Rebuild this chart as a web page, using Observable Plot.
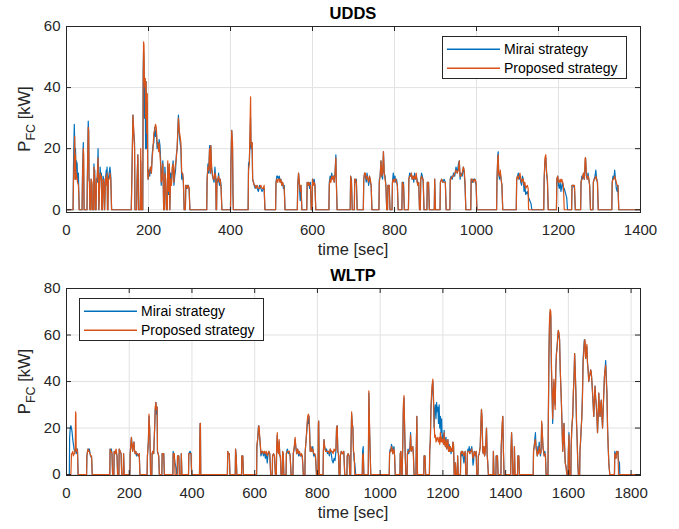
<!DOCTYPE html>
<html><head><meta charset="utf-8">
<script src="https://cdn.jsdelivr.net/npm/d3@7"></script>
<script src="https://cdn.jsdelivr.net/npm/@observablehq/plot@0.6"></script>
<style>
body{margin:0;background:#fff;}
#fig{position:relative;width:679px;height:529px;}
#fig svg{display:block;}
</style></head><body><div id="fig"></div>
<script>
// ---------- UDDS ----------
const uddsTime = [
0,16,
17,19,20,21,22,23,24,26,27,29,30,31,
38,39,41,42,43,
50,51,53,54,55,56,57,
59,60,62,63,
66,67,68,69,70,
72,73,75,77,78,79,
81,82,84,85,86,
88,89,91,93,
95,97,98,99,100,
101,102,104,106,108,110,
158,160,162,164,166,167,
171,172,174,175,176,
180,181,183,
186,187,188,189,190,191,192,193,194,195,196,197,198,199,
201,203,205,207,209,211,213,215,217,219,221,223,225,226,228,230,231,233,235,236,237,
239,240,242,244,246,247,249,251,252,
254,256,258,260,262,264,266,268,270,272,273,275,277,279,281,283,285,287,
290,291,293,295,297,299,301,
342,343,345,347,349,350,351,352,354,356,358,360,362,364,365,
366,367,369,371,373,375,377,379,
400,401,403,405,406,407,
443,444,446,448,449,450,452,453,454,456,458,460,462,465,468,471,474,477,480,482,484,
510,511,513,515,517,519,521,523,525,527,529,531,533,
563,564,566,568,570,572,574,
586,587,589,591,593,595,597,
599,600,602,604,606,608,
640,641,643,645,647,649,651,653,655,657,658,660,
692,693,695,697,
702,703,705,707,709,
724,725,727,729,731,733,735,737,739,741,743,745,
762,763,765,767,769,771,773,775,777,779,781,
783,784,787,789,
794,795,797,799,801,803,805,807,809,
818,819,822,824,
834,835,837,839,841,843,845,847,849,851,853,855,857,859,861,
863,864,866,868,870,872,
879,880,883,885,
897,898,900,
911,912,915,918,921,924,926,
935,936,938,941,944,947,950,953,956,958,960,962,965,968,970,972,974,
986,987,990,993,996,999,1001,
1049,1050,1052,1053,1054,1056,1058,1060,1062,1064,
1097,1098,1100,1102,1104,1106,1108,1110,1112,1114,1116,1118,1120,1124,1126,1127,1133,1135,
1164,1165,1167,1169,1171,1173,1175,
1195,1196,1198,1200,1202,1204,1206,1208,1210,1212,1214,1220,1222,
1232,1233,1236,1239,1241,
1254,1255,1257,1259,1261,1263,1265,1266,1268,1270,1272,1274,1276,1278,
1284,1285,1287,1289,1291,1293,1295,1297,
1330,1331,1333,1335,1337,1339,1341,1343,1345,1347,
1400
];
const uddsMirai = [
0,0,
14,28,22,10,20,12,16,15,9,12,6,0,
0,12,22,10,0,
0,12,29,26,10,9,0,
0,10,8,0,
0,15,10,13,0,
0,10,9,20,11,0,
10,14,10,12,0,
0,11,10,0,
10,13,10,14,0,
0,10,12,14,11,0,
0,15,31,25,22,0,
0,9,18,10,0,
0,16,0,
0,45,52,48,30,43,38,20,42,28,20,35,14,10,
13,11,14,12,18,21,22,27,24,26,20,22,20,23,21,15,8,12,16,8,0,
0,14,9,0,0,15,5,14,0,
12,9,13,16,8,11,13,18,20,28,31,25,22,20,10,12,9,0,
0,8,7,8,8,7,0,
0,10,15,12,21,14,12,21,13,11,10,9,14,10,0,
0,10,9,12,8,10,8,0,
0,15,26,20,5,0,
0,15,16,25,30,20,22,18,10,9,8,7,8,7,6,8,7,6,7,7,0,
0,9,11,11,10,11,9,10,8,9,7,8,0,
0,8,12,8,3,8,0,
0,9,8,9,7,9,0,
0,10,9,10,8,0,
0,9,11,10,12,10,11,9,12,18,10,0,
0,11,10,0,
0,10,9,10,0,
0,10,12,11,9,12,10,8,11,9,8,0,
0,10,11,16,11,10,19,12,11,8,0,
0,8,8,0,
0,9,12,10,11,9,10,8,0,
0,9,9,0,
0,10,12,11,12,10,11,9,12,10,11,10,8,9,0,
0,10,12,11,9,0,
0,9,9,0,
0,10,0,
0,9,10,9,10,9,0,
0,10,11,10,12,11,14,12,15,16,10,12,11,14,12,8,0,
0,10,9,10,10,8,0,
0,10,18,19,12,10,12,10,8,0,
0,10,11,12,10,11,9,8,11,10,6,8,5,6,5,4,2,0,
0,10,16,17,12,9,0,
0,10,11,8,7,9,6,8,9,6,7,4,0,
0,8,8,7,0,
0,9,11,10,12,10,15,17,11,10,12,10,8,0,
0,9,10,11,13,10,9,0,
0,9,11,10,13,10,7,6,8,0,
0
];
const uddsProposed = [
0,0,
9,18,24,10,18,10,12,10,9,8,5,0,
0,10,20,18,0,
0,10,27,26,10,9,0,
0,10,9,0,
0,14,12,10,0,
0,9,11,17,10,0,
10,12,10,11,0,
0,10,9,0,
10,11,8,12,0,
0,10,10,12,10,0,
0,14,31,26,20,0,
0,9,18,9,0,
0,20,0,
0,40,55,54,42,40,43,30,42,35,25,38,12,10,
12,13,14,12,17,20,25,26,28,27,22,21,19,22,18,14,9,10,15,8,0,
0,12,10,0,0,16,6,15,0,
10,8,14,15,9,13,15,17,21,27,30,26,24,22,12,12,10,0,
0,8,8,7,8,7,0,
0,10,14,13,20,16,12,21,14,12,10,10,12,11,0,
0,9,10,11,9,10,7,0,
0,14,26,22,6,0,
0,13,15,30,37,22,20,22,10,9,8,8,7,8,7,7,8,7,7,8,0,
0,9,10,9,10,10,9,10,8,9,8,7,0,
0,8,12,9,6,8,0,
0,9,8,9,8,8,0,
0,10,8,9,8,0,
0,8,10,9,11,10,11,9,12,17,10,0,
0,11,9,0,
0,10,10,9,0,
0,10,12,12,10,11,10,9,11,10,8,0,
0,9,11,16,11,12,19,12,10,8,0,
0,8,8,0,
0,9,10,9,10,10,9,8,0,
0,9,8,0,
0,10,11,11,12,10,11,10,11,10,12,9,8,9,0,
0,10,11,10,10,0,
0,9,9,0,
0,10,0,
0,9,10,9,9,9,0,
0,10,10,11,11,12,13,12,13,16,11,11,12,14,13,9,0,
0,10,10,9,10,9,0,
0,10,17,18,12,11,13,10,8,0,
0,10,11,10,11,12,10,9,10,10,8,9,7,8,7,0,0,0,
0,10,17,18,12,10,0,
0,10,11,9,9,10,9,10,9,8,0,0,0,
0,8,8,8,0,
0,9,10,11,12,10,17,17,12,10,11,10,8,0,
0,9,10,10,11,10,9,0,
0,9,10,10,11,10,9,8,8,0,
0
];

// ---------- WLTP ----------
const wltpTime = [
0,9,
10,12,14,16,18,20,22,24,26,28,29,30,31,33,35,37,
64,65,67,69,71,73,75,77,80,82,
138,139,141,143,145,147,
151,152,155,158,161,163,
167,168,171,174,176,
181,182,184,
202,203,205,207,209,211,213,215,217,219,221,223,226,229,232,234,
257,258,261,263,265,267,268,
272,273,275,278,281,283,285,287,289,290,292,294,296,
304,305,310,312,
339,340,342,344,346,349,351,
353,354,358,360,
365,366,368,
389,390,394,397,399,
424,425,426,427,428,
513,514,516,519,521,
538,539,541,543,
558,559,562,564,
606,607,610,612,614,616,618,620,622,625,628,631,634,637,640,642,645,648,651,
656,657,660,663,666,
669,670,672,674,676,678,680,682,684,
688,689,691,693,
700,701,704,707,710,713,716,
722,723,726,729,731,734,737,740,743,746,749,752,755,
760,761,764,767,769,771,773,775,777,779,782,785,788,791,794,797,
802,803,804,806,
818,819,821,823,826,829,832,835,838,841,844,847,850,853,856,859,861,863,865,867,869,
872,873,876,880,884,887,
894,895,898,901,903,
906,907,909,911,913,915,917,919,922,
943,944,946,948,
962,963,964,966,968,970,
1029,1030,1032,1034,1036,1038,1040,1042,1044,1046,1048,
1063,1064,1066,1068,
1070,1072,1074,1076,1078,1080,1082,
1086,1087,1089,1091,1093,1095,1097,1099,1101,1104,1106,1108,
1114,1115,1117,1119,
1139,1140,1143,1145,
1157,1158,1160,1162,1164,1166,1168,1170,1172,1174,1176,1178,1180,1182,1184,1186,1188,1190,1192,1194,1196,1198,1200,1202,1204,1206,1208,1210,1212,1214,1216,1218,1220,1222,1224,1226,1228,1230,1232,1234,1236,
1239,1240,1242,
1246,1247,1249,
1256,1257,1259,1261,1263,1265,1267,1269,1271,1273,
1277,1278,1280,1282,1284,1286,1288,1290,1292,1294,1296,1298,1300,1302,1304,1306,1308,
1312,1313,1316,1319,1321,1323,1325,1327,1329,1331,1333,1335,1337,1339,1341,1343,1345,
1360,1361,1363,
1369,1370,1374,1376,
1385,1386,1389,1391,1393,1395,
1416,1417,1419,1421,1423,
1427,1428,1430,
1438,1439,1442,1444,
1488,1489,1491,1493,1495,1497,1499,1501,1503,1505,1507,1509,1511,1513,1515,1517,1519,1521,1523,1525,1527,1529,
1535,1536,1538,1540,1542,1544,1546,1548,1550,1552,1554,1556,1558,1560,1562,1564,1566,1568,1570,1572,1574,1576,1578,1580,1582,1584,1586,1588,1590,1593,1595,
1599,1600,1602,1604,
1608,1609,1611,1614,1616,1618,1620,1622,1624,1626,1628,1630,1632,
1636,1637,1639,1641,1643,1645,1647,1649,1651,1653,1655,1657,1659,1661,1663,1665,1667,1669,1671,1673,1675,1677,1679,1681,1683,1685,1687,1689,1691,1693,1695,1697,1699,1701,1703,1705,1707,1709,1711,1713,1715,1717,1719,1721,1723,1725,1727,1729,1732,
1747,1748,1750,1752,1754,1756,1758,1760,1763,1764,
1830
];
const wltpMirai = [
0,0,
16,20,21,20,18,15,13,11,10,10,11,10,9,10,11,0,
0,8,10,11,10,11,9,8,7,0,
0,11,10,11,9,0,
0,10,9,10,8,0,
0,11,10,9,0,
0,9,0,
0,9,13,16,12,10,13,14,10,9,10,8,9,8,9,0,
0,8,14,25,20,10,0,
0,9,10,9,20,28,31,26,29,10,9,8,0,
0,9,9,0,
0,10,9,7,5,3,0,
0,8,8,0,
0,9,0,
0,9,10,9,0,
0,15,22,20,0,
0,10,9,9,0,
0,11,8,0,
0,8,8,0,
0,12,16,21,18,16,12,8,9,10,8,10,7,9,5,8,10,9,0,
0,8,9,8,0,
0,12,17,10,9,14,9,7,0,
0,10,9,0,
0,9,11,9,10,8,0,
0,9,11,15,12,9,11,8,9,8,9,7,0,
0,10,15,20,24,22,25,20,10,12,10,12,8,9,7,0,
0,20,23,0,
0,10,15,12,10,11,9,10,8,11,9,6,5,7,6,10,20,21,10,9,0,
0,8,10,9,10,0,
0,8,9,8,0,
0,12,26,22,20,10,6,5,0,
0,10,12,0,
0,15,35,20,10,0,
0,9,11,10,13,12,9,11,12,8,0,
0,9,10,0,
0,12,28,33,20,8,0,
0,9,11,9,10,12,18,10,11,12,9,0,
0,10,25,0,
0,8,8,0,
0,10,15,28,33,38,40,32,20,28,30,24,31,27,29,22,30,20,25,18,24,15,17,13,19,14,12,16,11,12,15,10,13,10,12,9,11,10,14,12,0,
0,5,0,
0,8,0,
0,9,10,8,10,7,5,8,10,0,
0,9,11,10,12,9,11,10,12,9,4,6,10,9,8,10,0,
0,8,9,12,20,28,22,10,9,12,8,10,14,20,9,5,0,
0,10,0,
0,8,8,0,
0,12,20,25,10,0,
0,10,18,10,0,
0,12,0,
0,8,8,0,
0,10,12,15,18,12,10,8,12,10,14,10,8,10,22,18,12,10,8,10,8,0,
0,20,50,65,70,68,45,35,22,35,40,32,30,45,52,55,58,62,60,58,45,38,30,20,10,15,22,12,5,3,0,
0,10,18,0,
0,12,20,25,35,42,52,45,35,22,15,5,0,
0,10,14,20,25,35,50,54,58,57,50,52,55,48,45,40,42,43,45,44,40,35,30,25,32,38,33,30,25,18,25,35,28,25,30,32,25,20,28,35,42,45,49,42,35,20,12,5,0,
0,10,9,7,10,9,10,6,5,0,
0
];
const wltpProposed = [
0,0,
0,0,0,9,9,10,8,9,9,12,27,26,10,11,10,0,
0,8,10,11,10,10,9,8,8,0,
0,11,10,10,9,0,
0,10,9,11,8,0,
0,11,10,9,0,
0,9,0,
0,9,13,16,12,10,13,14,10,9,10,9,9,8,9,0,
0,8,14,26,20,10,0,
0,9,10,9,20,29,31,28,29,10,9,8,0,
0,9,9,0,
0,9,9,9,0,0,0,
0,8,8,0,
0,9,0,
0,9,9,9,0,
0,15,22,22,0,
0,10,9,9,0,
0,11,8,0,
0,8,8,0,
0,12,16,20,21,16,13,9,10,10,9,10,9,10,8,9,10,9,0,
0,8,9,8,0,
0,12,18,10,9,15,8,8,0,
0,10,9,0,
0,9,10,10,10,8,0,
0,9,12,16,12,9,11,9,10,8,9,8,0,
0,10,15,22,25,26,25,18,10,12,10,11,9,9,8,0,
0,22,23,0,
0,10,15,12,10,10,10,10,9,11,10,10,9,11,10,11,20,21,10,9,0,
0,8,10,9,10,0,
0,8,9,8,0,
0,12,27,22,20,10,9,0,0,
0,8,9,0,
0,18,36,22,10,0,
0,9,10,10,12,11,9,10,11,8,0,
0,9,10,0,
0,13,30,34,20,8,0,
0,9,10,10,10,11,17,10,11,12,8,0,
0,10,25,0,
0,8,8,0,
0,10,15,29,35,39,41,33,22,16,17,14,15,16,15,14,16,13,18,14,16,14,15,13,18,13,12,15,11,13,15,10,12,10,12,10,11,10,14,13,0,
0,5,0,
0,8,0,
0,9,10,9,10,9,8,9,10,0,
0,9,10,10,10,9,10,10,11,9,7,8,10,9,8,10,0,
0,8,9,12,22,28,25,10,9,12,8,10,14,20,9,5,0,
0,10,0,
0,8,8,0,
0,12,22,25,10,0,
0,10,18,10,0,
0,12,0,
0,8,8,0,
0,10,12,14,15,12,10,8,10,9,12,10,9,10,23,18,12,10,8,9,8,0,
0,22,52,67,71,70,48,36,24,35,41,32,28,45,52,54,60,62,61,58,46,38,30,20,10,16,22,12,5,3,0,
0,10,17,0,
0,12,20,26,36,41,52,44,35,23,15,5,0,
0,10,15,20,25,33,48,52,57,58,50,52,56,48,45,40,42,43,45,44,40,36,31,25,32,38,33,30,25,18,25,35,28,25,30,32,25,20,28,35,42,45,47,40,35,20,12,5,0,
0,9,8,7,10,9,10,0,0,0,
0
];

const uddsXTicks = [0,200,400,600,800,1000,1200,1400];
const uddsYTicks = [0,20,40,60];
const wltpXTicks = [0,200,400,600,800,1000,1200,1400,1600,1800];
const wltpYTicks = [0,20,40,60,80];
const seriesNames = ["Mirai strategy","Proposed strategy"];
const titles = ["UDDS","WLTP"];

const BLUE = "#0072BD", ORANGE = "#D95319", AXC = "#262626", GRID = "#e2e2e2";
const FONT = "'Liberation Sans', Arial, Helvetica, sans-serif";

function panel(cfg) {
  const {time, mirai, proposed, xDomain, yDomain, xTicks, yTicks, height, marginTop, marginBottom, title, titleY, legendX, legendY} = cfg;
  const n = Math.min(time.length, mirai.length, proposed.length);
  const rows = d3.range(n).map(i => ({t: time[i], m: mirai[i], p: proposed[i]}));
  const W = 679, mL = 66, mR = 39;
  const fw = W - mL - mR, fh = height - marginTop - marginBottom;
  const svg = Plot.plot({
    width: W, height, marginLeft: mL, marginRight: mR, marginTop, marginBottom,
    style: {fontFamily: FONT, fontSize: "15px", color: AXC, background: "white", overflow: "visible"},
    x: {domain: xDomain},
    y: {domain: yDomain},
    marks: [
      Plot.gridX({ticks: xTicks, stroke: GRID, strokeOpacity: 1}),
      Plot.gridY({ticks: yTicks, stroke: GRID, strokeOpacity: 1}),
      Plot.line(rows, {x: "t", y: "m", stroke: BLUE, strokeWidth: 1.2}),
      Plot.line(rows, {x: "t", y: "p", stroke: ORANGE, strokeWidth: 1.2}),
      Plot.tickX(xTicks, {x: d => d, stroke: AXC, insetTop: fh - 5}),
      Plot.tickX(xTicks, {x: d => d, stroke: AXC, insetBottom: fh - 5}),
      Plot.tickY(yTicks, {y: d => d, stroke: AXC, insetRight: fw - 5}),
      Plot.tickY(yTicks, {y: d => d, stroke: AXC, insetLeft: fw - 5}),
      Plot.frame({stroke: AXC}),
      Plot.axisX({ticks: xTicks, tickSize: 0, tickPadding: 12, label: null, tickFormat: d => String(d)}),
      Plot.axisY({ticks: yTicks, tickSize: 0, tickPadding: 6, label: null, tickFormat: d => String(d)})
    ]
  });
  const s = d3.select(svg);
  // title
  s.append("text").attr("x", mL + fw / 2).attr("y", titleY)
    .attr("text-anchor", "middle").attr("font-weight", "bold").attr("font-size", 16.5)
    .attr("fill", "#000").text(title);
  // x label
  s.append("text").attr("x", mL + fw / 2).attr("y", marginTop + fh + 43)
    .attr("text-anchor", "middle").attr("font-size", 16.5).attr("fill", AXC).text("time [sec]");
  // y label
  const yl = s.append("text").attr("transform", `translate(30,${marginTop + fh / 2}) rotate(-90)`)
    .attr("text-anchor", "middle").attr("font-size", 16.5).attr("fill", AXC);
  yl.append("tspan").text("P");
  yl.append("tspan").attr("font-size", 12.5).attr("dy", 5).text("FC");
  yl.append("tspan").attr("dy", -5).text(" [kW]");
  // legend
  const lg = s.append("g").attr("transform", `translate(${legendX},${legendY})`);
  lg.append("rect").attr("x", 0.5).attr("y", 0.5).attr("width", 184).attr("height", 42)
    .attr("fill", "white").attr("stroke", AXC).attr("stroke-width", 1);
  [[BLUE, seriesNames[0], 13.3], [ORANGE, seriesNames[1], 32.3]].forEach(([c, name, yy]) => {
    lg.append("line").attr("x1", 5).attr("x2", 58).attr("y1", yy).attr("y2", yy)
      .attr("stroke", c).attr("stroke-width", 1.4);
    lg.append("text").attr("x", 62).attr("y", yy).attr("dy", "0.35em")
      .attr("text-anchor", "start")
      .attr("font-size", 14).attr("fill", "#000").text(name);
  });
  return svg;
}

const fig = document.getElementById("fig");
fig.appendChild(panel({
  time: uddsTime, mirai: uddsMirai, proposed: uddsProposed,
  xDomain: [0, 1400], yDomain: [-0.9, 60], xTicks: uddsXTicks, yTicks: uddsYTicks,
  height: 265, marginTop: 26, marginBottom: 53, title: titles[0], titleY: 19,
  legendX: 442, legendY: 36
}));
fig.appendChild(panel({
  time: wltpTime, mirai: wltpMirai, proposed: wltpProposed,
  xDomain: [0, 1830], yDomain: [-0.4, 80], xTicks: wltpXTicks, yTicks: wltpYTicks,
  height: 264, marginTop: 23, marginBottom: 54, title: titles[1], titleY: 16,
  legendX: 79, legendY: 33
}));
</script></body></html>
